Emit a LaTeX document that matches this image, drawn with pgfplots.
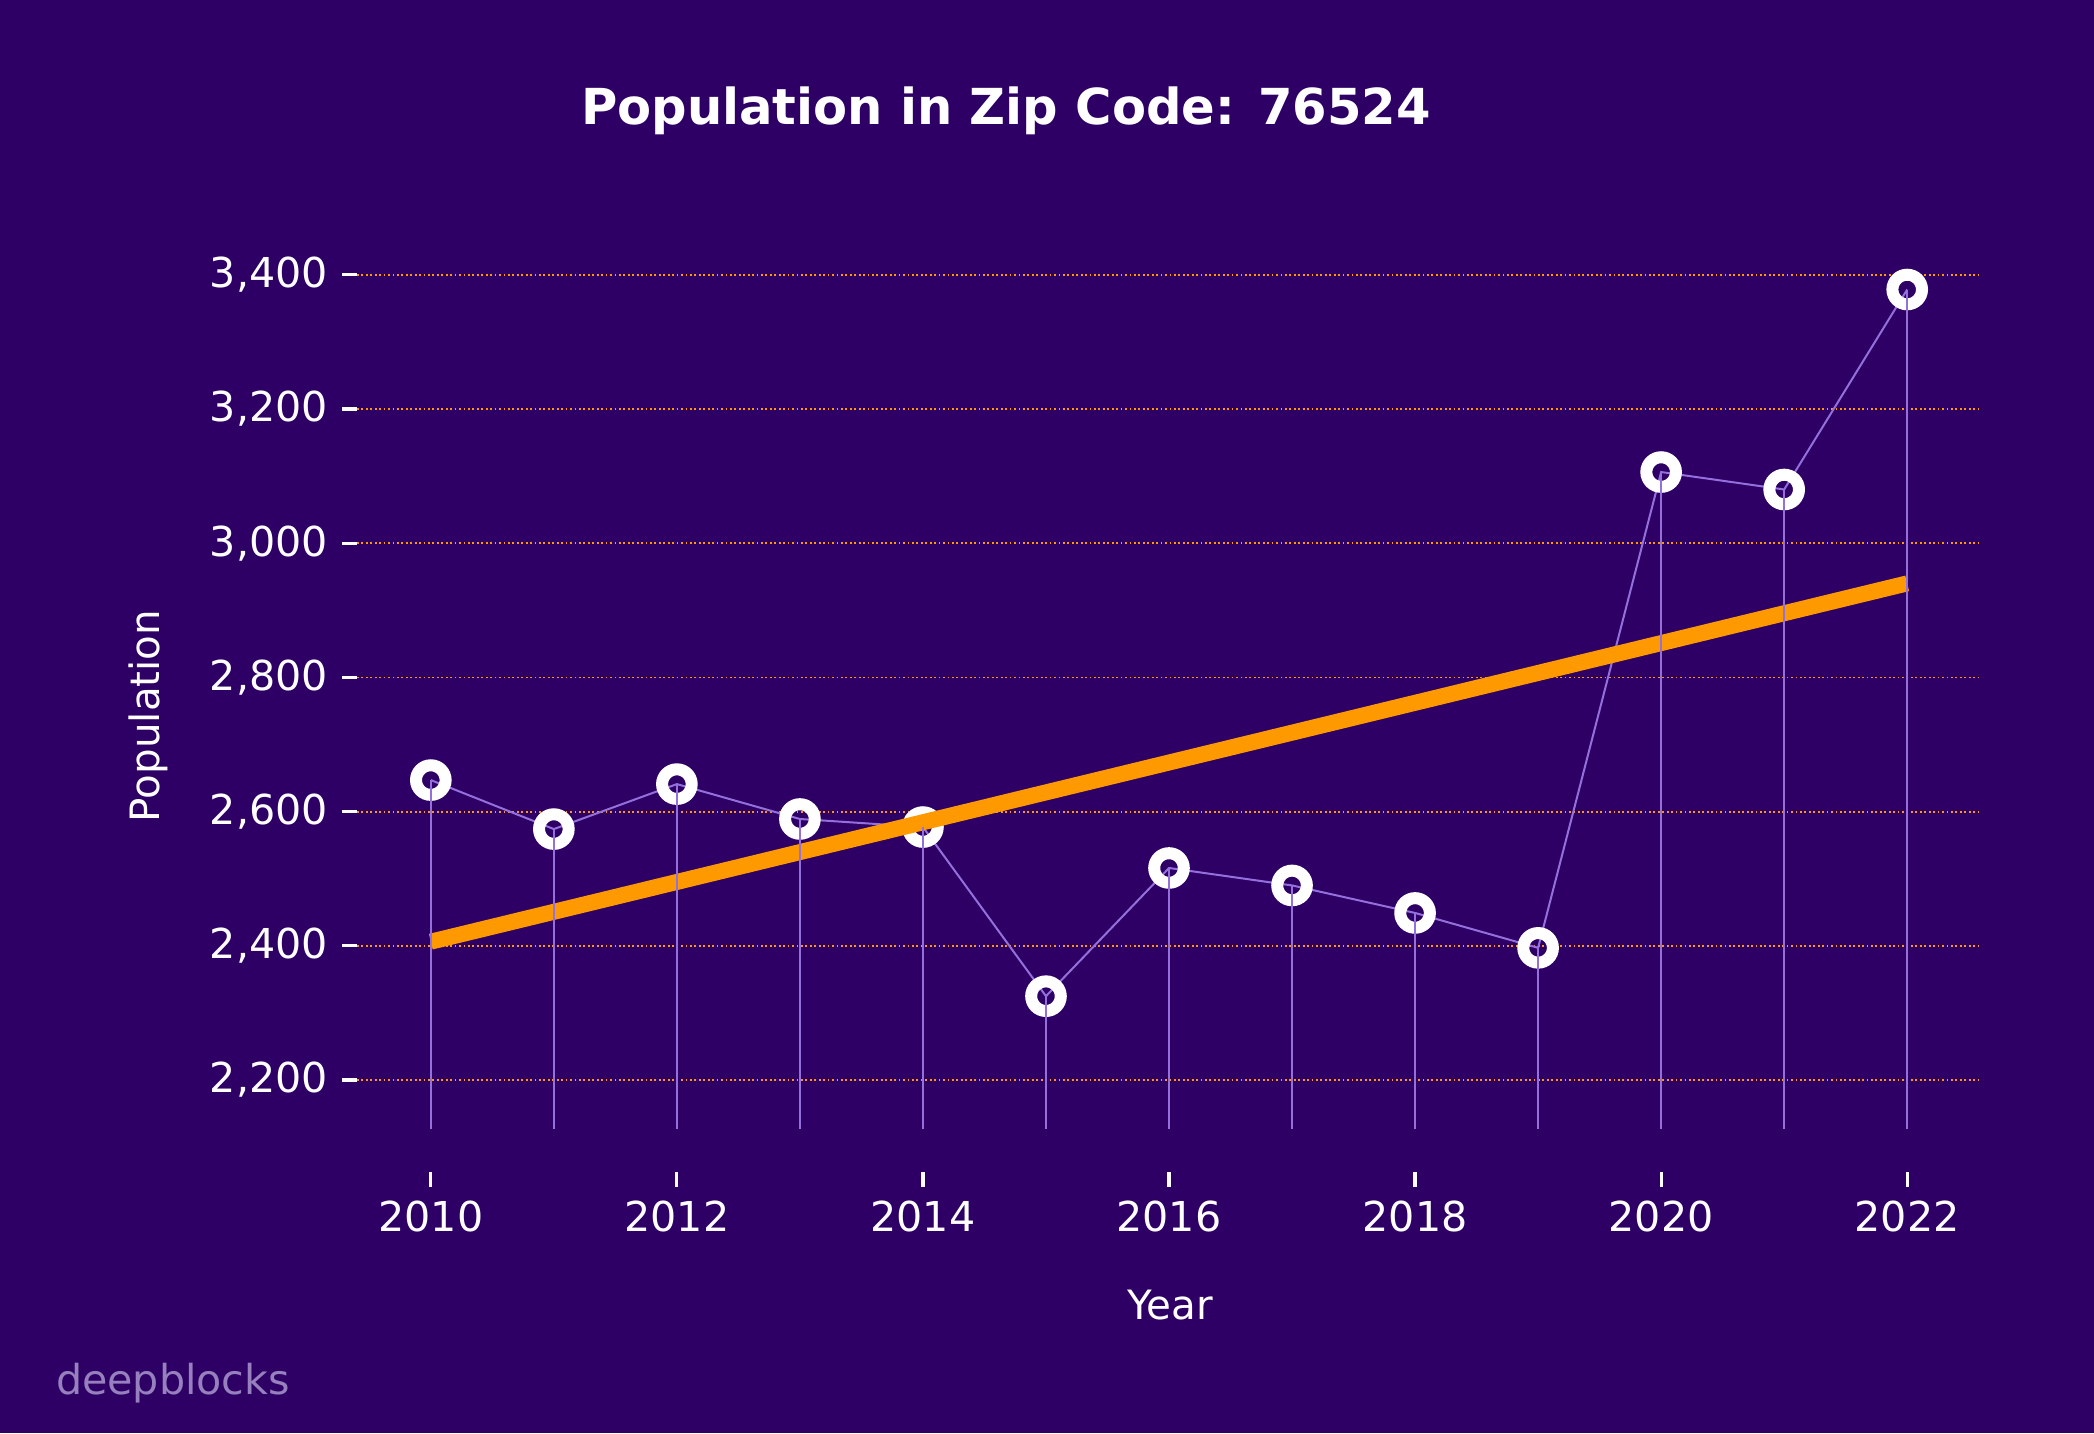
\documentclass[border=0pt]{standalone}
\usepackage{pgfplots}
\pgfplotsset{compat=1.18}
\usepackage{pgfplotstable}
\usepackage{fontspec}
\setmainfont{DejaVu Sans}
\definecolor{bg}{RGB}{46,0,102}
\definecolor{org}{RGB}{255,153,0}
\definecolor{stem}{RGB}{147,112,219}
\definecolor{wm}{RGB}{150,128,190}

\pgfplotstableread{
year pop
2010 2647
2011 2574
2012 2641
2013 2589
2014 2577
2015 2325
2016 2516
2017 2490
2018 2449
2019 2397
2020 3106
2021 3080
2022 3378
}\popdata

\begin{document}
\begin{tikzpicture}
\fill[bg] (0,0) rectangle (523.5pt,358.25pt);
\begin{axis}[
  at={(89.25pt,65.25pt)}, anchor=south west,
  scale only axis, width=406pt, height=228pt,
  xmin=2009.4, xmax=2022.6, ymin=2063, ymax=3422,
  clip marker paths=true,
  axis line style={draw=none},
  xtick={2010,2012,...,2022}, ytick={2200,2400,...,3400},
  tick align=outside, major tick length=3.75pt,
  tick pos=left,
  tick style={white, line width=0.8pt},
  /pgf/number format/assume math mode=true,
  ticklabel style={text=white, font=\fontsize{10.3}{12}\selectfont},
  x tick label style={/pgf/number format/.cd, 1000 sep={}},
  y tick label style={/pgf/number format/.cd, 1000 sep={,}},
  ymajorgrids,
  grid style={org, line width=0.45pt, dash pattern=on 0.45pt off 0.66pt},
  title={Population in Zip Code: 76524},
  title style={at={(axis description cs:0.3996,1.1226)}, anchor=base, text=white, font=\bfseries\fontsize{12.4}{14}\selectfont},
  xlabel={Year}, ylabel={Population},
  xlabel style={at={(axis description cs:0.5006,-0.1458)}, anchor=center, text=white, font=\fontsize{10.1}{12}\selectfont},
  ylabel style={at={(axis description cs:-0.1287,0.5)}, anchor=center, text=white, font=\fontsize{10.1}{12}\selectfont},
]
\addplot[stem, line width=0.5pt, mark=none] table[x=year, y=pop] {\popdata};
\addplot[only marks, mark=o, mark size=3.7pt, mark options={draw=white, line width=3pt}] table[x=year, y=pop] {\popdata};
\addplot[org, line width=4pt, mark=none] coordinates {(2010,2406.2) (2022,2940.1)};
\addplot[draw=none, mark=none,
  error bars/.cd, y dir=minus, y explicit, error mark=none,
  error bar style={draw=stem, line width=0.5pt}]
  table[x=year, y=pop, y error expr=\thisrow{pop}-2127] {\popdata};
\end{axis}
\node[anchor=base west, text=wm, font=\fontsize{10.3}{12}\selectfont] at (10.5pt,9.75pt) {deepblocks};
\end{tikzpicture}
\end{document}
